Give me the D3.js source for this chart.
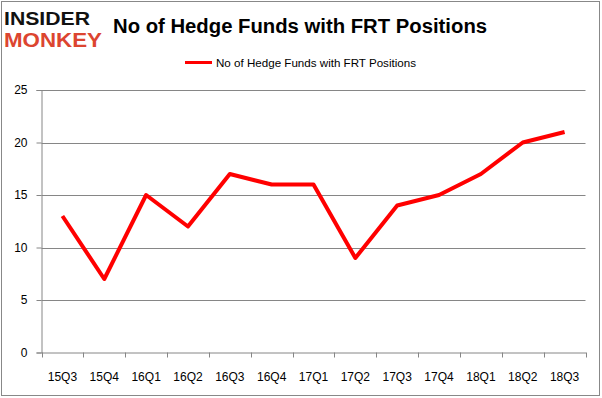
<!DOCTYPE html>
<html>
<head>
<meta charset="utf-8">
<script src="https://cdn.jsdelivr.net/npm/d3@7"></script>
<style>
  body { margin: 0; background: #fff; }
  text { font-family: "Liberation Sans", Arial, sans-serif; }
</style>
</head>
<body>
<div id="chart"></div>
<script>
// chart data
var quarters = ["15Q3", "15Q4", "16Q1", "16Q2", "16Q3", "16Q4", "17Q1", "17Q2", "17Q3", "17Q4", "18Q1", "18Q2", "18Q3"];
var funds = [13, 7, 15, 12, 17, 16, 16, 9, 14, 15, 17, 20, 21];
var yTicks = [0, 5, 10, 15, 20, 25];
var seriesName = "No of Hedge Funds with FRT Positions";
var chartTitle = "No of Hedge Funds with FRT Positions";

var W = 602, H = 398;
var plot = { left: 41.5, right: 585.5, top: 90, bottom: 352.5 };
var gridColor = "#868686";

var svg = d3.select("#chart").append("svg")
  .attr("width", W)
  .attr("height", H);

// outer frame
svg.append("rect")
  .attr("x", 1.5).attr("y", 1.5)
  .attr("width", 598).attr("height", 394)
  .attr("fill", "#fff")
  .attr("stroke", "#888")
  .attr("stroke-width", 1);

// logo
var logo = svg.append("g").attr("class", "logo");
logo.append("text")
  .attr("x", 4).attr("y", 24.5)
  .attr("font-size", 19).attr("font-weight", "bold")
  .attr("textLength", 86).attr("lengthAdjust", "spacingAndGlyphs")
  .attr("fill", "#111")
  .text("INSIDER");
logo.append("text")
  .attr("x", 4).attr("y", 47)
  .attr("font-size", 20).attr("font-weight", "bold")
  .attr("textLength", 98).attr("lengthAdjust", "spacingAndGlyphs")
  .attr("fill", "#dc4530")
  .text("MONKEY");

// title
svg.append("text")
  .attr("x", 113).attr("y", 33)
  .attr("font-size", 20.3).attr("font-weight", "bold")
  .attr("fill", "#000")
  .text(chartTitle);

// legend
var legend = svg.append("g").attr("class", "legend");
legend.append("line")
  .attr("x1", 185).attr("x2", 212)
  .attr("y1", 62.5).attr("y2", 62.5)
  .attr("stroke", "#ff0000").attr("stroke-width", 3);
legend.append("text")
  .attr("x", 216).attr("y", 66.5)
  .attr("font-size", 11.6)
  .attr("fill", "#000")
  .text(seriesName);

// scales
var x = d3.scaleBand()
  .domain(quarters)
  .range([plot.left, plot.right])
  .padding(0);

var y = d3.scaleLinear()
  .domain([0, 25])
  .range([plot.bottom, plot.top]);

// gridlines
svg.append("g").attr("class", "grid")
  .selectAll("line")
  .data(yTicks.filter(function(d){ return d > 0; }))
  .enter()
  .append("line")
  .attr("x1", plot.left).attr("x2", plot.right)
  .attr("y1", function(d){ return Math.round(y(d)) + 0.5; })
  .attr("y2", function(d){ return Math.round(y(d)) + 0.5; })
  .attr("stroke", gridColor).attr("stroke-width", 1);

// y axis
var yAxis = svg.append("g")
  .attr("transform", "translate(" + plot.left + ",0)")
  .call(d3.axisLeft(y).tickValues(yTicks).tickSize(5).tickPadding(9));
yAxis.select(".domain").attr("stroke", gridColor);
yAxis.selectAll(".tick line").attr("stroke", gridColor);
yAxis.selectAll("text")
  .attr("font-size", 12)
  .attr("font-family", "Liberation Sans, Arial, sans-serif")
  .attr("fill", "#000");

// x axis: labels centred in bands, ticks on band edges
var xAxis = svg.append("g")
  .attr("transform", "translate(0," + plot.bottom + ")")
  .call(d3.axisBottom(x).tickSize(0).tickPadding(20));
xAxis.select(".domain").attr("stroke", gridColor);
xAxis.selectAll("text")
  .attr("font-size", 12)
  .attr("font-family", "Liberation Sans, Arial, sans-serif")
  .attr("fill", "#000");

var edges = quarters.map(function(d){ return x(d); }).concat([plot.right]);
xAxis.selectAll(".edge")
  .data(edges)
  .enter()
  .append("line")
  .attr("class", "edge")
  .attr("x1", function(d){ return Math.round(d) + 0.5; })
  .attr("x2", function(d){ return Math.round(d) + 0.5; })
  .attr("y1", 0).attr("y2", 5)
  .attr("stroke", gridColor);

// series line
var line = d3.line()
  .x(function(d, i){ return x(quarters[i]) + x.bandwidth() / 2; })
  .y(function(d){ return y(d); });

svg.append("path")
  .datum(funds)
  .attr("d", line)
  .attr("fill", "none")
  .attr("stroke", "#ff0000")
  .attr("stroke-width", 4)
  .attr("stroke-linejoin", "round");
</script>
</body>
</html>
